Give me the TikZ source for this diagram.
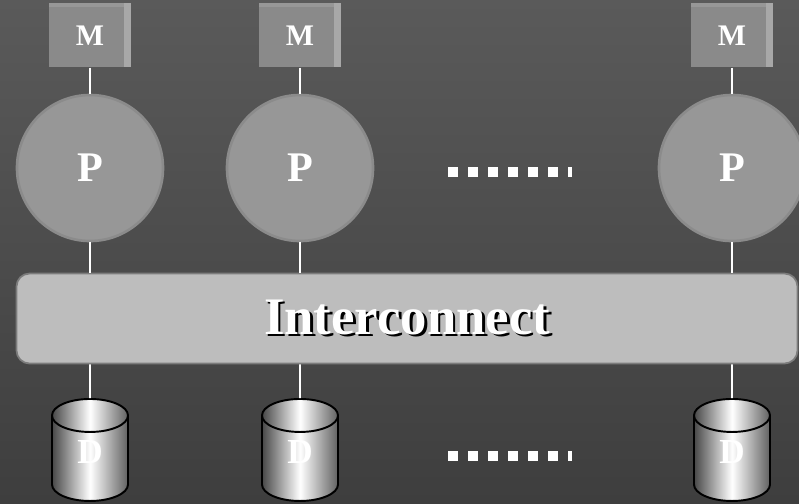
\documentclass[tikz,border=0pt]{standalone}
\usepackage{fontspec}
\setmainfont{Liberation Serif}
\usetikzlibrary{positioning, shapes.geometric}

\definecolor{bgtop}{HTML}{5A5A5A}
\definecolor{bgbot}{HTML}{3E3E3E}
\definecolor{memfill}{HTML}{8A8A8A}
\definecolor{memside}{HTML}{A8A8A8}
\definecolor{memtop}{HTML}{979797}
\definecolor{procfill}{HTML}{979797}
\definecolor{procedge}{HTML}{8B8B8B}
\definecolor{busfill}{HTML}{BDBDBD}
\definecolor{busedge}{HTML}{7C7C7C}

% white text with a black drop shadow
\newcommand{\shadowtext}[1]{\makebox[0pt][l]{\hspace{1.6pt}\raisebox{-1.6pt}{\color{black}#1}}#1}

\begin{document}
\begin{tikzpicture}[node distance=0.52cm, text=white]
    % Define block styles
    \tikzstyle{memory} = [rectangle, fill=memfill, minimum width=1.64cm, minimum height=1.28cm, inner sep=0pt, font=\fontsize{17}{17}\bfseries,
        path picture={
            \fill[memtop] (path picture bounding box.north west) rectangle ([yshift=-0.08cm]path picture bounding box.north east);
            \fill[memside] ([xshift=-0.14cm]path picture bounding box.north east) rectangle (path picture bounding box.south east);
        }]
    \tikzstyle{proc} = [circle, fill=procfill, draw=procedge, line width=1.5pt, minimum size=2.92cm, font=\fontsize{24}{24}\bfseries]
    \tikzstyle{network} = [rectangle, fill=busfill, draw=busedge, line width=1pt, rounded corners=0.26cm, minimum width=15.62cm, minimum height=1.8cm, font=\fontsize{30}{30}\bfseries]
    \tikzstyle{disk} = [cylinder, shape border rotate=90, aspect=1.3, draw=black, line width=1.1pt, inner sep=0pt, text height=1.2ex, text depth=0pt,
        minimum width=1.52cm, minimum height=2.04cm, anchor=north, left color=black!72, right color=black!62, middle color=white, font=\fontsize{20}{20}\bfseries]
    \tikzstyle{link} = [draw=white, line width=1.1pt]
    \tikzstyle{dots} = [draw=white, line width=0.2cm, dash pattern=on 0.2cm off 0.2cm]

    % Background
    \useasboundingbox (0,0) rectangle (15.98,-10.06);
    \shade[top color=bgtop, bottom color=bgbot] (0,0) rectangle (15.98,-10.06);

    % Place nodes
    \node [proc] (p1) at (1.8,-3.36) {P};
    \node [proc] (p2) at (6.0,-3.36) {P};
    \node [proc] (p3) at (14.64,-3.36) {P};
    \node [memory, above=of p1] (m1) {M};
    \node [memory, above=of p2] (m2) {M};
    \node [memory, above=of p3] (m3) {M};
    \node [network] (bus) at (8.14,-6.37) {\shadowtext{Interconnect}};
    \node [disk] (d1) at (1.8,-7.96) {D};
    \node [disk] (d2) at (6.0,-7.96) {D};
    \node [disk] (d3) at (14.64,-7.96) {D};

    % Draw connections
    \foreach \i in {1,2,3} {
        \draw [link] (m\i) -- (p\i);
        \draw [link] (p\i) -- (p\i |- bus.north);
        \draw [link] (d\i |- bus.south) -- (d\i);
    }

    % Dots between the columns
    \coordinate (dotsP) at (8.96,-3.44);
    \coordinate (dotsD) at (8.96,-9.12);
    \draw [dots] (dotsP) -- ++(2.48,0);
    \draw [dots] (dotsD) -- ++(2.48,0);
\end{tikzpicture}
\end{document}
